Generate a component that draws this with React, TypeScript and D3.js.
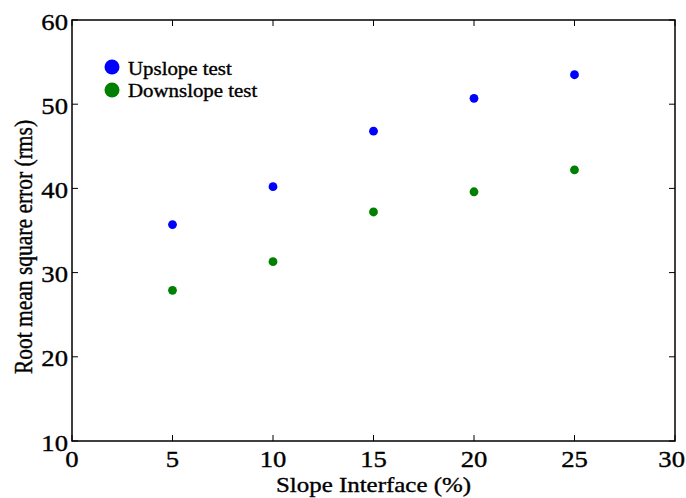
import React from "react";
import * as d3 from "d3";

const slopes = [5, 10, 15, 20, 25];
const upslope = [35.7, 40.2, 46.8, 50.7, 53.5];
const downslope = [27.9, 31.3, 37.2, 39.6, 42.2];
const xTicks = [0, 5, 10, 15, 20, 25, 30];
const yTicks = [10, 20, 30, 40, 50, 60];
const seriesNames = ["Upslope test", "Downslope test"];
const seriesColors = ["#0000ff", "#008000"];

const W = 686;
const H = 498;
const left = 72;
const right = 675;
const top = 20;
const bottom = 441;
const font = "'Liberation Serif', 'Times New Roman', serif";
// the figure's type is set a little wider than it is tall
const sx = 1.16;

function Label(props: {
  x: number;
  y: number;
  size: number;
  anchor?: "start" | "middle" | "end";
  rotate?: number;
  children: React.ReactNode;
}) {
  const rot = props.rotate ? ` rotate(${props.rotate})` : "";
  return (
    <text
      transform={`translate(${props.x},${props.y}) scale(${sx},1)${rot}`}
      textAnchor={props.anchor ?? "start"}
      fontSize={props.size}
      fill="#000"
      stroke="#000"
      strokeWidth={0.35}
    >
      {props.children}
    </text>
  );
}

export default function App() {
  const x = d3.scaleLinear().domain([0, 30]).range([left, right]);
  const y = d3.scaleLinear().domain([10, 60]).range([bottom, top]);
  const series = [upslope, downslope];
  const tickLen = 6;

  return (
    <svg
      width={W}
      height={H}
      style={{ position: "absolute", left: 0, top: 0, background: "#fff" }}
      fontFamily={font}
    >
      <rect x={0} y={0} width={W} height={H} fill="#fff" />
      {/* axes box */}
      <rect
        x={left}
        y={top}
        width={right - left}
        height={bottom - top}
        fill="none"
        stroke="#000"
        strokeWidth={1.5}
      />
      {/* x ticks, bottom and top */}
      {xTicks.map((t, i) => (
        <g key={"x" + t}>
          <line x1={x(t)} x2={x(t)} y1={bottom} y2={bottom - tickLen} stroke="#000" strokeWidth={1} />
          <line x1={x(t)} x2={x(t)} y1={top} y2={top + tickLen} stroke="#000" strokeWidth={1} />
          <Label
            x={i === xTicks.length - 1 ? W - 1 : x(t)}
            y={bottom + 26}
            size={23}
            anchor={i === xTicks.length - 1 ? "end" : "middle"}
          >
            {t}
          </Label>
        </g>
      ))}
      {/* y ticks, left and right */}
      {yTicks.map((t) => (
        <g key={"y" + t}>
          <line x1={left} x2={left + tickLen} y1={y(t)} y2={y(t)} stroke="#000" strokeWidth={1} />
          <line x1={right} x2={right - tickLen} y1={y(t)} y2={y(t)} stroke="#000" strokeWidth={1} />
          <Label x={left - 4} y={y(t) + 9.5} size={23} anchor="end">
            {t}
          </Label>
        </g>
      ))}
      {/* points */}
      {series.map((vals, si) =>
        vals.map((v, i) => (
          <circle
            key={si + "-" + i}
            cx={x(slopes[i])}
            cy={y(v)}
            r={4.4}
            fill={seriesColors[si]}
          />
        ))
      )}
      {/* legend */}
      {seriesNames.map((name, i) => (
        <g key={name}>
          <circle cx={112} cy={67 + i * 23} r={7.5} fill={seriesColors[i]} />
          <Label x={128} y={74.5 + i * 22.5} size={18}>
            {name}
          </Label>
        </g>
      ))}
      {/* axis labels */}
      <Label x={(left + right) / 2} y={492} size={21.5} anchor="middle">
        Slope Interface (%)
      </Label>
      <Label x={32} y={247} size={21.5} anchor="middle" rotate={-90}>
        Root mean square error (rms)
      </Label>
    </svg>
  );
}
